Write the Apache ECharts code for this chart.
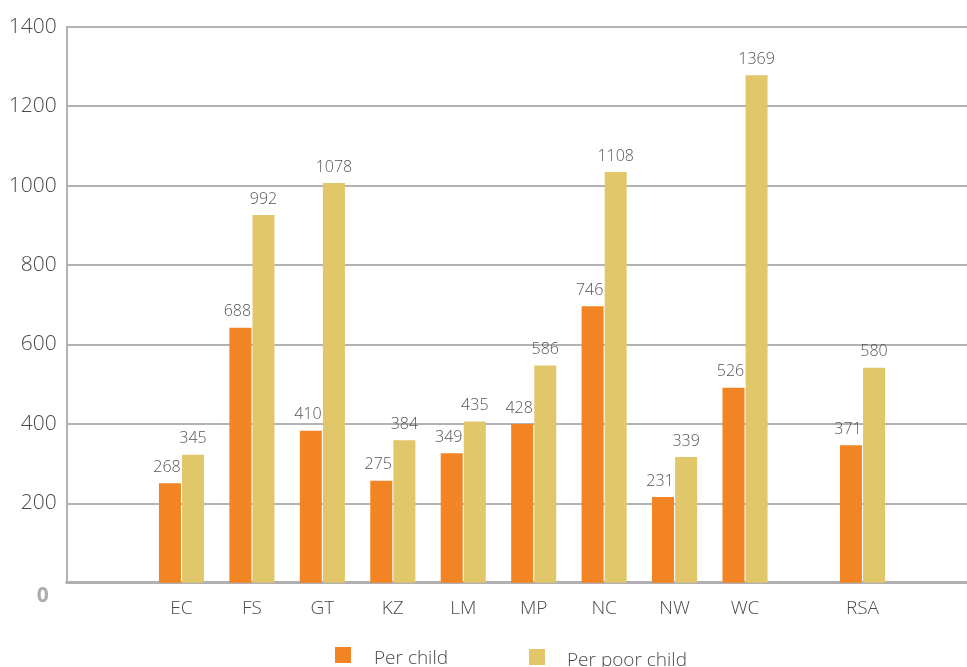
<!DOCTYPE html>
<html>
<head>
<meta charset="utf-8">
<script src="https://cdn.jsdelivr.net/npm/echarts@6/dist/echarts.min.js"></script>
<style>
  html, body { margin: 0; padding: 0; background: #fff; }
  #chart { width: 967px; height: 667px; }
</style>
</head>
<body>
<div id="chart"></div>
<script>
// provinces + national total
const provinces = ["EC", "FS", "GT", "KZ", "LM", "MP", "NC", "NW", "WC"];
const national = ["RSA"];
const perChild = [268, 688, 410, 275, 349, 428, 746, 231, 526];
const perPoorChild = [345, 992, 1078, 384, 435, 586, 1108, 339, 1369];
const perChildRSA = [371];
const perPoorChildRSA = [580];
const yTicks = [0, 200, 400, 600, 800, 1000, 1200, 1400];

const ORANGE = "#f38423";
const YELLOW = "#e1c66a";
const GRID_LINE = "#b2b2b7";
const FONT = "Open Sans";
const LIGHT = 300;

const plotTop = 26.7;
const plotBottom = 667 - 582.7;
const slot = 70.44;

const barLabel = (dx) => ({
  show: true,
  position: "top",
  distance: 8,
  offset: [dx, 0],
  color: "#555",
  fontFamily: FONT,
  fontWeight: LIGHT,
  fontSize: 16
});

function barSeries(name, data, color, idx, dx) {
  return {
    name: name,
    type: "bar",
    xAxisIndex: idx,
    yAxisIndex: idx,
    data: data,
    barWidth: 22,
    barGap: "5%",
    itemStyle: { color: color },
    label: barLabel(dx),
    z: 3
  };
}

const catAxis = (idx, names) => ({
  type: "category",
  gridIndex: idx,
  data: names,
  axisLine: { show: false },
  axisTick: { show: false },
  axisLabel: { color: "#4a4a4a", fontFamily: FONT, fontWeight: LIGHT, fontSize: 19, margin: 16 }
});

// the drawn bars sit on a 0-1500 scale while the printed axis reads 0-1400
const hiddenY = (idx) => ({
  type: "value", gridIndex: idx, min: 0, max: 1500, show: false
});

// legend text sits a little lower than its swatch
const legendText = (padLeft) => ({
  rich: {
    t: {
      color: "#4a4a4a", fontFamily: FONT, fontWeight: LIGHT, fontSize: 19,
      padding: [8, 0, 0, padLeft]
    }
  }
});

const chart = echarts.init(document.getElementById("chart"));
chart.setOption({
  animation: false,
  textStyle: { fontFamily: FONT },
  grid: [
    { left: 66.7, right: 0, top: plotTop, bottom: plotBottom },
    { left: 181.5 - slot / 2, width: slot * provinces.length, top: plotTop, bottom: plotBottom },
    { left: 862.5 - slot / 2, width: slot, top: plotTop, bottom: plotBottom }
  ],
  xAxis: [
    {
      type: "value", gridIndex: 0, min: 0, max: 1,
      axisLine: { show: true, lineStyle: { color: "#b0b0b4", width: 3 } },
      axisTick: { show: false }, axisLabel: { show: false }, splitLine: { show: false }
    },
    catAxis(1, provinces),
    catAxis(2, national)
  ],
  yAxis: [
    {
      type: "value", gridIndex: 0,
      min: yTicks[0], max: yTicks[yTicks.length - 1], interval: 200,
      axisLine: { show: true, lineStyle: { color: GRID_LINE, width: 2 } },
      axisTick: { show: false },
      splitLine: { lineStyle: { color: GRID_LINE, width: 2 } },
      axisLabel: {
        color: "#4a4a4a", fontFamily: FONT, fontWeight: LIGHT, fontSize: 21, margin: 10,
        formatter: (v) => (v === 0 ? "{z|0}" : String(v)),
        rich: {
          z: { color: "#acacac", fontFamily: FONT, fontSize: 21, fontWeight: "bold", padding: [26, 8, 0, 0] }
        }
      }
    },
    hiddenY(1),
    hiddenY(2)
  ],
  legend: [
    {
      data: ["Per child"], left: 335, top: 647, padding: 0,
      itemWidth: 16, itemHeight: 16, icon: "rect",
      formatter: (name) => "{t|" + name + "}",
      textStyle: legendText(18)
    },
    {
      data: ["Per poor child"], left: 529, top: 649, padding: 0,
      itemWidth: 16, itemHeight: 16, icon: "rect",
      formatter: (name) => "{t|" + name + "}",
      textStyle: legendText(17)
    }
  ],
  series: [
    barSeries("Per child", perChild, ORANGE, 1, -3),
    barSeries("Per poor child", perPoorChild, YELLOW, 1, 0),
    barSeries("Per child", perChildRSA, ORANGE, 2, -3),
    barSeries("Per poor child", perPoorChildRSA, YELLOW, 2, 0)
  ]
});
</script>
</body>
</html>
